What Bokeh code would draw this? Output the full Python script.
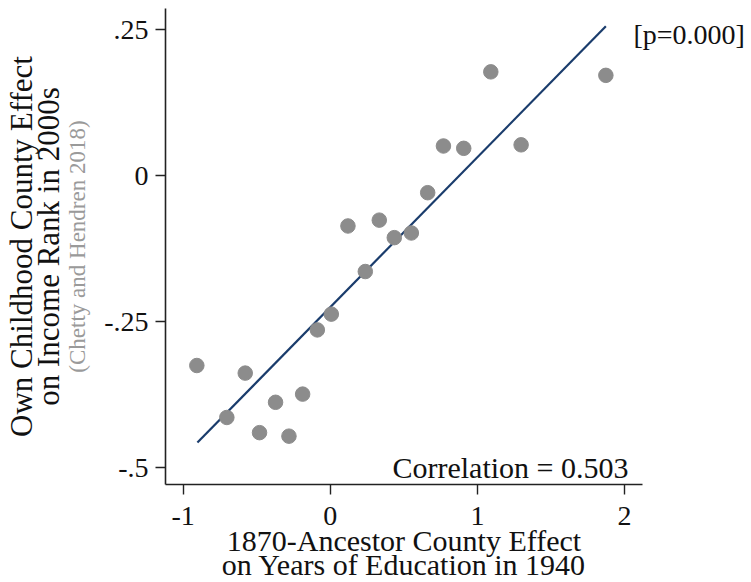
import numpy as np
from bokeh.plotting import figure
from bokeh.models import Range1d, Label, FixedTicker, LinearAxis
from bokeh.embed import file_html
from bokeh.resources import INLINE

# ---- data ----
x_vals = [-0.907, -0.703, -0.578, -0.481, -0.372, -0.281, -0.188, -0.088, 0.007, 0.120,
          0.238, 0.333, 0.435, 0.551, 0.662, 0.769, 0.907, 1.091, 1.297, 1.873]
y_vals = [-0.325, -0.414, -0.338, -0.440, -0.388, -0.446, -0.374, -0.264, -0.237, -0.086,
          -0.164, -0.076, -0.106, -0.098, -0.029, 0.051, 0.047, 0.178, 0.053, 0.172]
fit_x = [-0.903, 1.873]
fit_y = [-0.457, 0.256]
x_ticks = [-1, 0, 1, 2]
x_tick_labels = ["-1", "0", "1", "2"]
y_ticks = [-0.5, -0.25, 0, 0.25]
y_tick_labels = ["-.5", "-.25", "0", ".25"]
corr_text = "Correlation = 0.503"
p_text = "[p=0.000]"
p_text_y = 0.242
x_title = ["1870-Ancestor County Effect", "on Years of Education in 1940"]
y_title = ["Own Childhood County Effect", "on Income Rank in 2000s"]
y_source = "(Chetty and Hendren 2018)"

FONT = "Liberation Serif"
INK = "#111111"
X0, X1 = -1.120, 2.122
Y0, Y1 = -0.5288, 0.2865
FL, FT, FW, FH = 165, 8, 477, 476   # frame in page pixels
W, H = 751, 582

p = figure(width=W, height=H, frame_width=FW, frame_height=FH,
           x_range=Range1d(X0, X1), y_range=Range1d(Y0, Y1),
           output_backend="svg", toolbar_location=None,
           min_border_left=FL, min_border_right=W - FL - FW,
           min_border_top=FT, min_border_bottom=H - FT - FH)
p.outline_line_color = None
p.grid.visible = False
p.background_fill_color = "white"
p.border_fill_color = "white"

for ax, ticks, labs in ((p.xaxis[0], x_ticks, x_tick_labels), (p.yaxis[0], y_ticks, y_tick_labels)):
    ax.ticker = FixedTicker(ticks=ticks)
    ax.major_label_overrides = {t: l for t, l in zip(ticks, labs)}
    ax.minor_tick_line_color = None
    ax.major_tick_in = 0
    ax.major_tick_out = 10
    ax.axis_line_color = "#222222"
    ax.axis_line_width = 1.6
    ax.major_tick_line_color = "#222222"
    ax.major_tick_line_width = 1.4
    ax.major_label_text_font = FONT
    ax.major_label_text_font_size = "28px"
    ax.major_label_text_color = INK
p.yaxis[0].major_label_orientation = "horizontal"
p.yaxis[0].major_label_standoff = 7
p.xaxis[0].major_label_standoff = 12


def title_axis(ax, text, size, color, standoff):
    ax.axis_label = text
    ax.axis_label_text_font = FONT
    ax.axis_label_text_font_size = size
    ax.axis_label_text_font_style = "normal"
    ax.axis_label_text_color = color
    ax.axis_label_standoff = standoff


def bare_axis(**kw):
    ax = LinearAxis(ticker=FixedTicker(ticks=[]), **kw)
    ax.axis_line_color = None
    ax.major_tick_line_color = None
    ax.minor_tick_line_color = None
    ax.major_tick_out = 0
    ax.major_tick_in = 0
    ax.major_label_standoff = 0
    return ax


# y title: gray source on main axis, two black lines on extra axes further out
title_axis(p.yaxis[0], y_source, "23px", "#9a9a9a", 11)
ax_b = bare_axis()
title_axis(ax_b, y_title[1], "31px", INK, -3)
p.add_layout(ax_b, "left")
ax_c = bare_axis()
title_axis(ax_c, y_title[0], "31px", INK, -11)
p.add_layout(ax_c, "left")

# x title: two lines
title_axis(p.xaxis[0], x_title[0], "30px", INK, -4)
ax_d = bare_axis()
title_axis(ax_d, x_title[1], "30px", INK, -12)
p.add_layout(ax_d, "below")

# p-value note on a right-hand axis
ax_r = LinearAxis(ticker=FixedTicker(ticks=[p_text_y]))
ax_r.major_label_overrides = {p_text_y: p_text}
ax_r.axis_line_color = None
ax_r.major_tick_line_color = None
ax_r.minor_tick_line_color = None
ax_r.major_tick_out = 0
ax_r.major_tick_in = 0
ax_r.major_label_standoff = -9
ax_r.major_label_text_font = FONT
ax_r.major_label_text_font_size = "28px"
ax_r.major_label_text_color = INK
p.add_layout(ax_r, "right")

p.line(fit_x, fit_y, line_color="#1a3c6c", line_width=2.2)
p.scatter(x_vals, y_vals, size=14.5, fill_color="#8c8c8c", line_color="#8c8c8c")


def px2x(px):
    return X0 + (px - FL) / FW * (X1 - X0)


def py2y(py):
    return Y1 - (py - FT) / FH * (Y1 - Y0)


p.add_layout(Label(x=px2x(628), y=py2y(467), text=corr_text, text_align="right",
                   text_baseline="alphabetic", text_font=FONT, text_font_size="30px",
                   text_color=INK))

open("out.html", "w").write(file_html(p, INLINE))
